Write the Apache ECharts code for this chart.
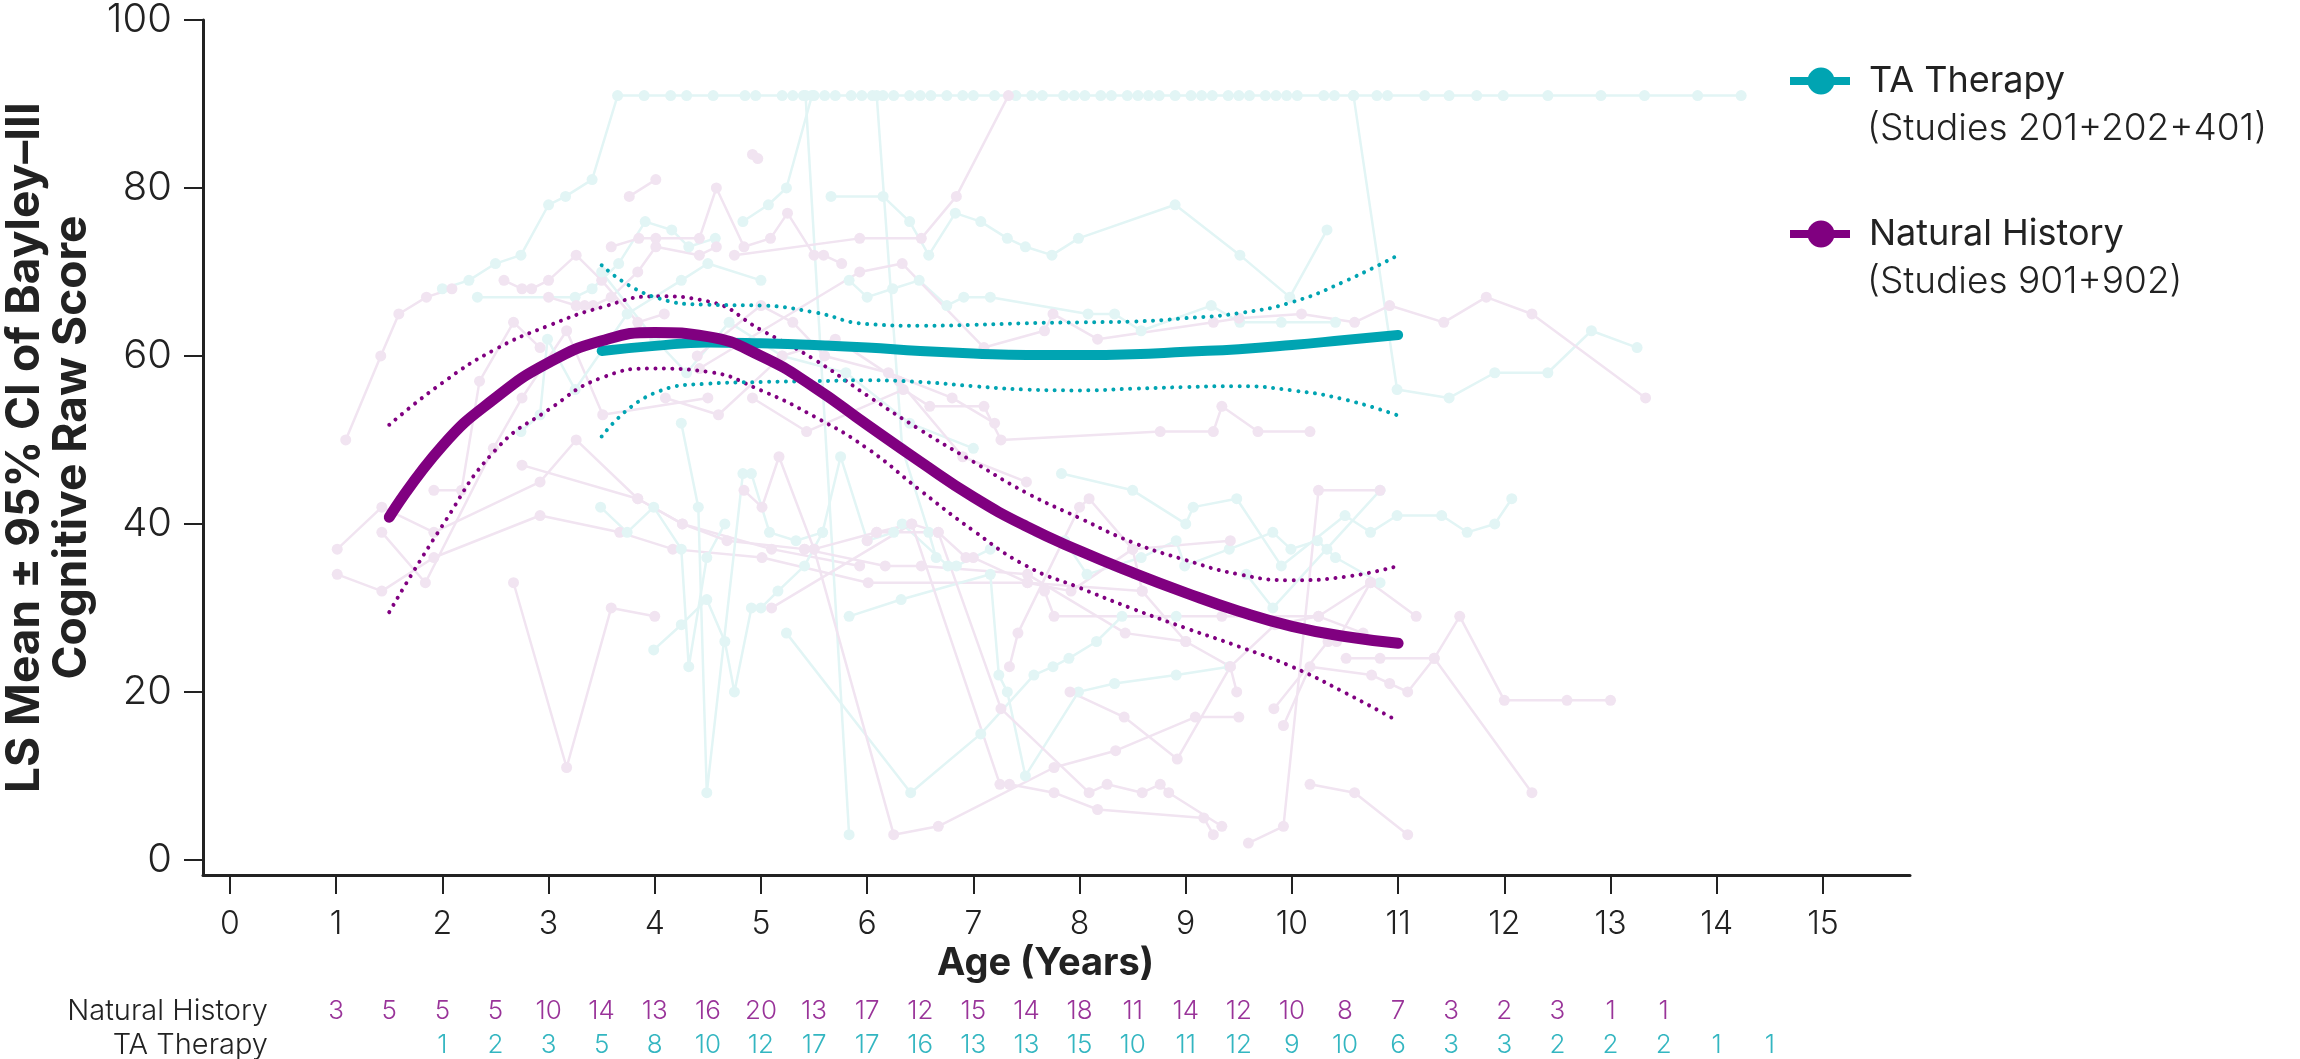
<!DOCTYPE html>
<html><head><meta charset="utf-8">
<script src="https://cdn.jsdelivr.net/npm/echarts@6/dist/echarts.min.js"></script>
<style>html,body{margin:0;padding:0;background:#fff}#c{width:2300px;height:1059px}</style>
</head><body><div id="c"></div>
<script>
// ---------- DATA ----------
const ageTicks = [0,1,2,3,4,5,6,7,8,9,10,11,12,13,14,15];
const scoreTicks = [0,20,40,60,80,100];

const nhMeanAges = [1.5,2,2.5,3,3.5,4,4.5,5,5.5,6,6.5,7,7.5,8,8.5,9,9.5,10,10.5,11];
const nhMean  = [40.8,49.3,55.0,59.2,61.8,62.8,62.3,60.0,56.3,51.8,47.4,43.2,39.7,36.8,34.2,31.8,29.6,27.8,26.6,25.8];
const nhUpper = [51.8,56.8,60.8,63.6,65.8,67.1,66.5,63.1,59.6,55.3,51.2,47.4,43.7,40.7,37.8,35.7,34.0,33.3,33.7,35.0];
const nhLower = [29.5,39.8,48.8,53.6,57.4,58.5,58.1,55.9,52.8,49.0,44.0,39.2,35.0,32.4,29.9,27.6,25.4,23.0,19.9,16.5];

const taMeanAges = [3.5,4,4.5,5,5.5,6,6.5,7,7.5,8,8.5,9,9.5,10,10.5,11];
const taMean  = [60.6,61.2,61.6,61.5,61.3,61.0,60.6,60.3,60.1,60.1,60.2,60.5,60.8,61.3,61.9,62.5];
const taUpper = [70.8,67.0,66.1,66.0,65.2,63.8,63.6,63.7,63.9,64.0,64.1,64.5,65.1,66.4,68.9,72.0];
const taLower = [50.4,55.6,56.7,56.9,57.0,57.1,56.9,56.4,56.0,55.9,56.1,56.3,56.4,55.9,54.8,52.9];

const nhCountAges = [1,1.5,2,2.5,3,3.5,4,4.5,5,5.5,6,6.5,7,7.5,8,8.5,9,9.5,10,10.5,11,11.5,12,12.5,13,13.5];
const nhCounts    = [3,5,5,5,10,14,13,16,20,13,17,12,15,14,18,11,14,12,10,8,7,3,2,3,1,1];
const taCountAges = [2,2.5,3,3.5,4,4.5,5,5.5,6,6.5,7,7.5,8,8.5,9,9.5,10,10.5,11,11.5,12,12.5,13,13.5,14,14.5];
const taCounts    = [1,2,3,5,8,10,12,17,17,16,13,13,15,10,11,12,9,10,6,3,3,2,2,2,1,1];

// individual patient trajectories [age, score]
const nhPatients = [
 [[1.09,50],[1.42,60],[1.59,65],[1.85,67],[2.09,68]],
 [[1.01,37],[1.43,42],[1.92,39],[2.92,45],[3.26,50],[3.84,43],[4.26,40],[5.1,37],[5.93,35]],
 [[1.01,34],[1.43,32],[1.92,36],[2.92,41],[3.67,39],[4.17,37],[5.01,36],[6.01,33],[7.51,33],[8.59,32]],
 [[1.43,39],[1.84,33],[2.48,49],[2.75,55],[3.17,63],[3.51,53],[4.5,55]],
 [[1.92,44],[2.18,44],[2.35,57],[2.67,64],[2.92,61]],
 [[2.67,33],[3.17,11],[3.59,30],[4.0,29]],
 [[2.75,47],[3.84,43],[4.26,40],[4.68,38],[5.41,37],[6.17,35],[6.51,35],[7.51,34],[8.43,27],[9.0,26]],
 [[2.58,69],[2.75,68],[2.84,68],[3.0,69],[3.26,72],[3.5,69],[3.84,64],[4.09,65]],
 [[3.0,67],[3.26,66],[3.34,66],[3.42,66],[3.59,67],[3.84,70],[4.01,73],[4.42,72],[4.58,73]],
 [[3.76,79],[4.01,81]],
 [[3.59,73],[3.85,74],[4.01,74],[4.42,74],[4.58,80],[4.84,73],[5.09,74],[5.25,77],[5.5,72],[5.59,72],[5.76,71]],
 [[4.92,84],[4.97,83.5]],
 [[4.75,72],[5.93,74],[6.51,74],[6.84,79],[7.33,91]],
 [[4.42,58.5],[5.93,70],[6.33,71],[7.1,61],[7.67,63],[7.75,65],[8.17,62],[9.26,64],[9.5,64.5],[10.09,65],[10.59,64],[10.92,66],[11.43,64],[11.83,67],[12.26,65],[13.33,55]],
 [[4.92,55],[5.43,51],[6.34,56],[6.59,54],[7.1,54],[7.26,50],[8.76,51],[9.26,51],[9.34,54],[9.68,51],[10.17,51]],
 [[4.84,44],[5.01,42],[5.17,48],[5.5,37],[6.25,3],[6.67,4],[7.76,11],[8.34,13],[9.09,17],[9.5,17]],
 [[5.1,30],[6.42,40],[7.25,9],[7.34,9],[7.76,8],[8.17,6],[9.17,5],[9.26,3]],
 [[6.0,38],[6.09,39],[6.67,39],[7.26,18],[8.09,8],[8.26,9],[8.59,8],[8.76,9],[8.84,8],[9.34,4]],
 [[9.59,2],[9.92,4],[10.25,44],[10.83,44]],
 [[10.17,9],[10.59,8],[11.09,3]],
 [[9.83,18],[10.34,26],[10.42,26],[10.74,33],[11.17,29]],
 [[10.51,24],[10.83,24],[11.34,24],[11.58,29],[12.0,19],[12.59,19],[13.0,19]],
 [[9.92,16],[10.17,23],[10.75,22],[10.92,21],[11.09,20],[11.34,24],[12.26,8]],
 [[7.91,20],[8.42,17],[8.92,12],[9.42,23],[9.84,28],[10.25,29],[10.67,27]],
 [[5.41,37],[5.5,37],[6.09,39],[6.42,40],[6.67,39],[6.93,36],[7.0,36],[7.51,33],[7.92,32],[8.5,37],[9.42,38]],
 [[7.67,32],[7.76,29],[9.34,29],[10.25,29],[10.74,33]],
 [[7.34,23],[7.42,27],[8.0,42],[8.09,43],[8.5,37],[8.59,32],[9.0,26],[9.42,23],[9.48,20]],
 [[4.4,60],[4.6,62],[5.0,66],[5.3,64],[5.6,60],[6.2,58],[6.8,55],[7.2,52]],
 [[4.1,55],[4.6,53],[5.2,60],[5.7,62],[6.3,57],[6.9,48],[7.5,45]]
];
const taPatients = [
 [[2.0,68],[2.25,69],[2.5,71],[2.74,72],[3.0,78],[3.16,79],[3.41,81],[3.65,91],[3.9,91],[4.15,91],[4.3,91],[4.55,91],[4.85,91],[4.95,91],[5.2,91],[5.3,91],[5.4,91],[5.5,91],[5.6,91],[5.7,91],[5.85,91],[5.95,91],[6.05,91],[6.15,91],[6.25,91],[6.4,91],[6.5,91],[6.6,91],[6.75,91],[6.9,91],[7.0,91],[7.2,91],[7.4,91],[7.55,91],[7.65,91],[7.85,91],[7.95,91],[8.05,91],[8.2,91],[8.3,91],[8.45,91],[8.55,91],[8.65,91],[8.75,91],[8.9,91],[9.05,91],[9.15,91],[9.25,91],[9.4,91],[9.5,91],[9.6,91],[9.75,91],[9.85,91],[9.95,91],[10.05,91],[10.3,91],[10.4,91],[10.58,91],[10.8,91],[10.9,91],[11.25,91],[11.48,91],[11.74,91],[11.99,91],[12.41,91],[12.91,91],[13.32,91],[13.82,91],[14.23,91]],
 [[4.83,76],[5.07,78],[5.24,80],[5.48,91]],
 [[10.58,91],[10.99,56],[11.48,55],[11.91,58],[12.41,58],[12.82,63],[13.25,61]],
 [[5.42,91],[5.83,3]],
 [[6.09,91],[6.33,49],[6.58,39],[6.65,36]],
 [[3.49,42],[3.74,39],[3.99,42],[4.25,37],[4.32,23],[4.49,36],[4.66,40]],
 [[3.99,25],[4.25,28],[4.49,31],[4.66,26],[4.75,20],[4.91,30],[5.0,30],[5.16,32],[5.41,35],[5.58,39]],
 [[4.25,52],[4.41,42],[4.49,8],[4.83,46]],
 [[2.33,67],[3.25,67],[3.41,68],[3.66,71],[3.91,76],[4.16,75],[4.32,73],[4.57,74]],
 [[2.74,51],[2.92,53],[2.99,62],[3.25,56],[3.74,65],[4.25,69],[4.5,71],[5.0,69]],
 [[5.66,79],[6.15,79],[6.4,76],[6.58,72],[6.83,77],[7.07,76],[7.32,74],[7.49,73],[7.74,72],[7.99,74],[8.9,78],[9.51,72],[9.98,67],[10.33,75]],
 [[5.83,69],[6.0,67],[6.24,68],[6.49,69],[6.75,66],[6.91,67],[7.16,67],[8.08,65],[8.33,65],[8.58,63],[9.24,66],[9.51,64],[9.9,64],[10.41,64]],
 [[4.91,46],[5.08,39],[5.33,38],[5.58,39],[5.75,48],[6.0,38],[6.25,39],[6.33,40],[6.76,35],[6.84,35],[7.16,37]],
 [[5.24,27],[6.41,8],[7.07,15],[7.57,22],[7.75,23],[7.9,24],[8.16,26],[8.4,29],[8.91,29]],
 [[5.83,29],[6.32,31],[7.16,34],[7.24,22],[7.32,20],[7.49,10],[7.99,20],[8.33,21],[8.91,22],[9.41,23]],
 [[7.6,39],[7.86,38],[8.07,34],[8.33,35],[8.58,36],[8.91,38],[8.99,35],[9.41,37],[9.82,39],[9.99,37],[10.24,38],[10.33,37],[10.41,36],[10.83,33]],
 [[7.83,46],[8.5,44],[9.0,40],[9.07,42],[9.48,43],[9.9,35],[10.5,41],[10.74,39],[10.99,41],[11.41,41],[11.65,39],[11.91,40],[12.07,43]],
 [[9.57,34],[9.82,30],[10.83,44]],
 [[3.5,70],[4.0,62],[4.3,58],[4.7,64],[5.2,60],[5.8,58],[6.4,52],[7.0,49]]
];

const rowNames = ['Natural History','TA Therapy'];
const legendSub = ['(Studies 201+202+401)','(Studies 901+902)'];

// ---------- STYLE ----------
const PURPLE = '#800080', TEAL = '#00A4B2';
const PINK_F = '#F1E4F1', TEAL_F = '#E2F5F5';
const INK = '#222222';
const FONT = "Inter, 'Noto Sans', sans-serif";

const zip = (a, b) => a.map((v, i) => [v, b[i]]);

const series = [];
const maxLen = Math.max(nhPatients.length, taPatients.length);
for (let i = 0; i < maxLen; i++) {
  if (taPatients[i]) series.push({type:'line', data: taPatients[i], symbol:'circle', symbolSize:11,
    lineStyle:{color:TEAL_F, width:2.5}, itemStyle:{color:TEAL_F}, silent:true, z:1, animation:false});
  if (nhPatients[i]) series.push({type:'line', data: nhPatients[i], symbol:'circle', symbolSize:11,
    lineStyle:{color:PINK_F, width:2.5}, itemStyle:{color:PINK_F}, silent:true, z:1, animation:false});
}
const dotted = (data, color) => ({type:'line', data, smooth:true, symbol:'none', silent:true, z:3,
  lineStyle:{color, width:4, type:[0.01, 8.4], cap:'round'}, animation:false});
series.push(dotted(zip(nhMeanAges, nhUpper), PURPLE));
series.push(dotted(zip(nhMeanAges, nhLower), PURPLE));
series.push(dotted(zip(taMeanAges, taUpper), TEAL));
series.push(dotted(zip(taMeanAges, taLower), TEAL));
series.push({name:'Natural History', type:'line', data: zip(nhMeanAges, nhMean), smooth:true, symbol:'circle', showSymbol:false,
  lineStyle:{color:PURPLE, width:11, cap:'round'}, itemStyle:{color:PURPLE}, z:5, animation:false});
series.push({name:'TA Therapy', type:'line', data: zip(taMeanAges, taMean), smooth:true, symbol:'circle', showSymbol:false,
  lineStyle:{color:TEAL, width:10, cap:'round'}, itemStyle:{color:TEAL}, z:4, animation:false});

// count table
const countLabel = (color) => ({show:true, position:'inside', fontFamily:FONT, fontSize:26, fontWeight:300, color,
  formatter: p => String(p.value[2])});
series.push({type:'scatter', xAxisIndex:1, yAxisIndex:1, symbolSize:1, itemStyle:{color:'rgba(0,0,0,0)'},
  data: nhCountAges.map((a, i) => [a, 0, nhCounts[i]]), label: countLabel(PURPLE), silent:true, animation:false});
series.push({type:'scatter', xAxisIndex:1, yAxisIndex:1, symbolSize:1, itemStyle:{color:'rgba(0,0,0,0)'},
  data: taCountAges.map((a, i) => [a, 1, taCounts[i]]), label: countLabel(TEAL), silent:true, animation:false});

const icon = 'path://M0,9.5 L60,9.5 L60,17.5 L0,17.5 Z M17.5,13.5 A13.5,13.5 0 1,1 44.5,13.5 A13.5,13.5 0 1,1 17.5,13.5 Z';

const option = {
  backgroundColor:'#fff',
  animation:false,
  grid:[
    {left:203, right:390, top:20, bottom:184, containLabel:false, outerBoundsMode:'none'},
    {left:203, right:390, top:994, height:68, containLabel:false, outerBoundsMode:'none'}
  ],
  xAxis:[
    {type:'value', gridIndex:0, min:-0.254, max:15.82,
     axisLine:{show:true, onZero:false, lineStyle:{color:INK, width:3}},
     axisTick:{show:true, customValues:ageTicks, length:19, lineStyle:{color:INK, width:2}},
     axisLabel:{show:true, customValues:ageTicks, margin:33, fontFamily:FONT, fontSize:32, fontWeight:300, color:INK},
     splitLine:{show:false},
     name:'Age (Years)', nameLocation:'middle', nameGap:50,
     nameTextStyle:{fontFamily:FONT, fontSize:38, fontWeight:'bold', color:INK, padding:[0,22,0,0]}},
    {type:'value', gridIndex:1, min:-0.254, max:15.82, show:false}
  ],
  yAxis:[
    {type:'value', gridIndex:0, min:-1.8, max:100,
     axisLine:{show:true, onZero:false, lineStyle:{color:INK, width:3}},
     axisTick:{show:true, customValues:scoreTicks, length:19, lineStyle:{color:INK, width:2}},
     axisLabel:{show:true, customValues:scoreTicks, margin:31, fontFamily:FONT, fontSize:40, fontWeight:300, color:INK},
     splitLine:{show:false},
     name:'LS Mean ± 95% CI of Bayley–III\nCognitive Raw Score', nameLocation:'middle', nameGap:27, nameRotate:90,
     nameTextStyle:{fontFamily:FONT, fontSize:46, fontWeight:'bold', color:INK, lineHeight:47}},
    {type:'category', gridIndex:1, data:rowNames, inverse:true,
     axisLine:{show:false}, axisTick:{show:false}, splitLine:{show:false},
     axisLabel:{show:true, interval:0, margin:-65, fontFamily:FONT, fontSize:29, fontWeight:300, color:INK}}
  ],
  legend:{
    orient:'vertical', left:1785, top:56, itemWidth:60, itemHeight:27, itemGap:113,
    icon: icon,
    data:['TA Therapy','Natural History'],
    textStyle:{fontFamily:FONT, fontSize:36, color:INK, lineHeight:40, padding:[0,0,0,14]},
    selectedMode:false
  },
  graphic:[
    {type:'text', left:1867, top:110, style:{text:legendSub[0], fontFamily:FONT, fontSize:37, fontWeight:300, fill:INK}},
    {type:'text', left:1867, top:263, style:{text:legendSub[1], fontFamily:FONT, fontSize:37, fontWeight:300, fill:INK}}
  ],
  series
};
const chart = echarts.init(document.getElementById('c'), null, {renderer:'canvas'});
chart.setOption(option);
</script>
</body></html>
